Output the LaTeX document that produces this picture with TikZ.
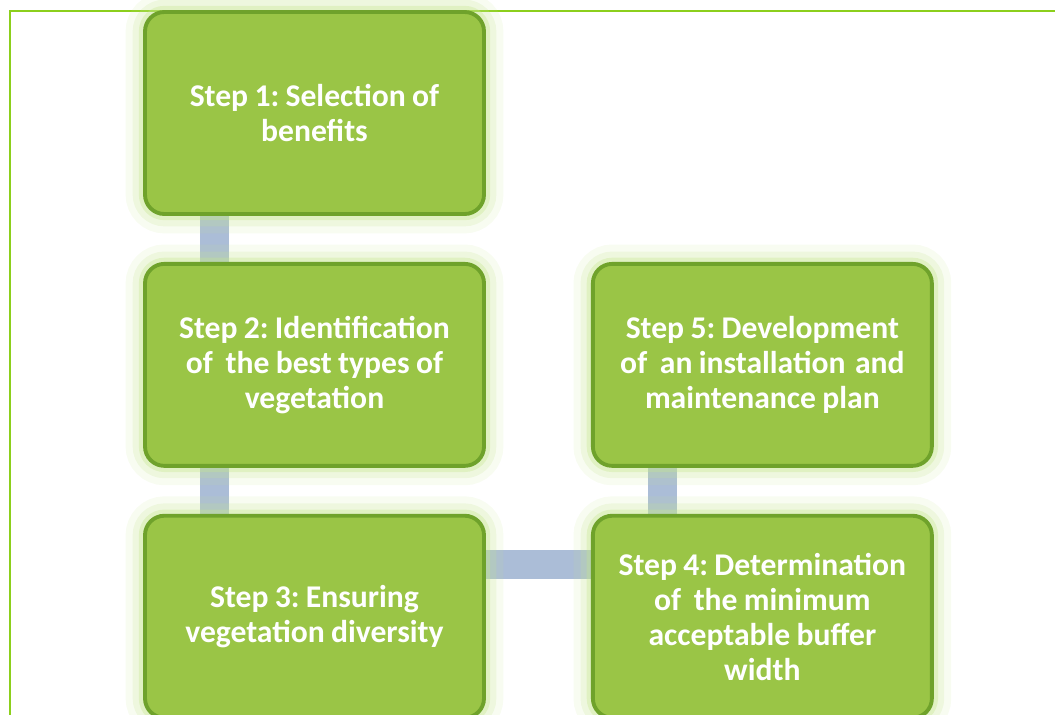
\documentclass[tikz,border=0pt]{standalone}
\usepackage{fontspec}
\setmainfont{Carlito}
\usetikzlibrary{positioning}
\definecolor{boxfill}{HTML}{9AC546}
\definecolor{boxline}{HTML}{6FA22B}
\definecolor{glowc}{HTML}{C5E58F}
\definecolor{linkc}{HTML}{ABBDD7}
\definecolor{framec}{HTML}{8CCF1C}
\tikzset{
  stepbox/.style={draw=boxline, line width=2.2pt, fill=boxfill, rounded corners=11pt,
    minimum width=6.78cm, minimum height=4.04cm, text width=6.4cm, align=center,
    text=white, font=\fontsize{18}{20}\selectfont\bfseries\frenchspacing,
    execute at begin node={\spaceskip=0.2em\relax},
    preaction={draw=glowc, line width=22pt, opacity=0.12},
    preaction={draw=glowc, line width=14pt, opacity=0.2},
    preaction={draw=glowc, line width=7pt, opacity=0.35}},
  link/.style={draw=linkc, line width=16.4pt}
}
\pgfdeclarelayer{background}
\pgfsetlayers{background,main}
\begin{document}
\begin{tikzpicture}
      \clip (0,0) rectangle (21.1,-14.28);
      \draw[framec, line width=1.7pt] (0.2,-0.22) rectangle (22,-15);
      \node[stepbox] (s1) at (6.29,-2.26) {Step 1: Selection of\\ benefits};
      \node[stepbox, below=0.92cm of s1] (s2) {Step 2: Identification\\ of \hspace{0.2em}the best types of\\ vegetation};
      \node[stepbox, below=0.92cm of s2] (s3) {Step 3: Ensuring\\ vegetation diversity};
      \node[stepbox, right=2.1cm of s3] (s4) {Step 4: Determination\\ of \hspace{0.2em}the minimum\\ acceptable buffer\\ width};
      \node[stepbox, above=0.92cm of s4] (s5) {Step 5: Development\\ of \hspace{0.2em}an installation \hspace{0.1em}and\\ maintenance plan};
      \begin{pgfonlayer}{background}
        \draw[link] ([xshift=-2cm]s1.south) -- ([xshift=-2cm]s2.north);
        \draw[link] ([xshift=-2cm]s2.south) -- ([xshift=-2cm]s3.north);
        \draw[link] ([yshift=1.04cm]s3.east) -- ([yshift=1.04cm]s4.west);
        \draw[link] ([xshift=-2cm]s5.south) -- ([xshift=-2cm]s4.north);
      \end{pgfonlayer}
    \end{tikzpicture}
\end{document}
